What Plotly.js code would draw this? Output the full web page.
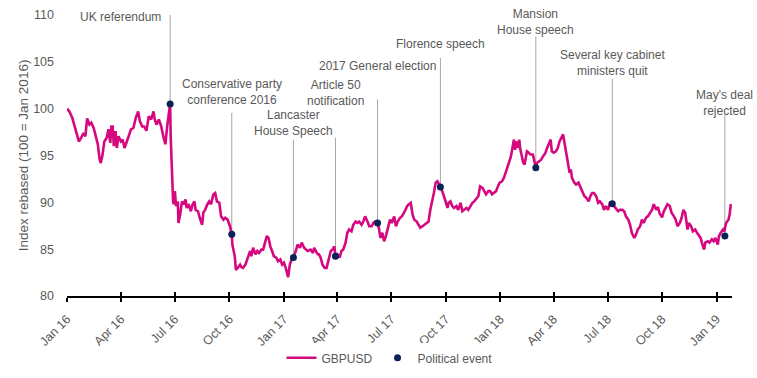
<!DOCTYPE html>
<html>
<head>
<meta charset="utf-8">
<script src="https://cdn.plot.ly/plotly-3.0.1.min.js"></script>
<style>
  html, body { margin: 0; padding: 0; background: #fff; }
  #chart { width: 757px; height: 378px; }
</style>
</head>
<body>
<div id="chart"></div>
<script>
// GBPUSD index (100 = Jan 2016)
var dates = [
"2016-01-01","2016-01-05","2016-01-10","2016-01-14","2016-01-18","2016-01-21","2016-01-25","2016-01-29",
"2016-02-01","2016-02-04","2016-02-08","2016-02-11","2016-02-15","2016-02-18","2016-02-22","2016-02-25","2016-02-27",
"2016-03-01","2016-03-04","2016-03-08","2016-03-11","2016-03-14","2016-03-16","2016-03-18","2016-03-20","2016-03-23","2016-03-25","2016-03-28",
"2016-04-01","2016-04-04","2016-04-07","2016-04-11","2016-04-14","2016-04-18","2016-04-22","2016-04-26","2016-04-30",
"2016-05-03","2016-05-07","2016-05-10","2016-05-14","2016-05-18","2016-05-22","2016-05-26","2016-05-28","2016-05-31",
"2016-06-04","2016-06-08","2016-06-12","2016-06-15","2016-06-18","2016-06-21","2016-06-23","2016-06-24","2016-06-26","2016-06-28","2016-06-29",
"2016-07-01","2016-07-03","2016-07-06","2016-07-07","2016-07-10","2016-07-13","2016-07-16","2016-07-19","2016-07-21","2016-07-24","2016-07-28","2016-07-31",
"2016-08-03","2016-08-05","2016-08-09","2016-08-12","2016-08-16","2016-08-18","2016-08-21","2016-08-25","2016-08-28","2016-08-31",
"2016-09-04","2016-09-07","2016-09-10","2016-09-14","2016-09-17","2016-09-21","2016-09-24","2016-09-28",
"2016-10-01","2016-10-02","2016-10-05","2016-10-06","2016-10-10","2016-10-12","2016-10-15","2016-10-19","2016-10-21","2016-10-24","2016-10-28",
"2016-11-01","2016-11-05","2016-11-07","2016-11-10","2016-11-14","2016-11-17","2016-11-20","2016-11-24","2016-11-27",
"2016-12-01","2016-12-03","2016-12-06","2016-12-09","2016-12-12","2016-12-15","2016-12-19","2016-12-22","2016-12-26","2016-12-29",
"2017-01-01","2017-01-04","2017-01-08","2017-01-11","2017-01-14","2017-01-17","2017-01-21","2017-01-24","2017-01-28","2017-01-31",
"2017-02-04","2017-02-07","2017-02-10","2017-02-15","2017-02-19","2017-02-21","2017-02-24","2017-02-27",
"2017-03-01","2017-03-04","2017-03-07","2017-03-11","2017-03-14","2017-03-18","2017-03-21","2017-03-24","2017-03-27","2017-03-29",
"2017-04-01","2017-04-05","2017-04-08","2017-04-11","2017-04-15","2017-04-18","2017-04-21","2017-04-25","2017-04-28",
"2017-05-02","2017-05-05","2017-05-08","2017-05-12","2017-05-15","2017-05-18","2017-05-22","2017-05-25","2017-05-29",
"2017-06-01","2017-06-04","2017-06-08","2017-06-10","2017-06-13","2017-06-16","2017-06-19","2017-06-22","2017-06-26","2017-06-29",
"2017-07-02","2017-07-06","2017-07-09","2017-07-12","2017-07-16","2017-07-19","2017-07-24","2017-07-28","2017-07-31",
"2017-08-03","2017-08-06","2017-08-09","2017-08-13","2017-08-16","2017-08-19","2017-08-23","2017-08-26","2017-08-29",
"2017-09-02","2017-09-05","2017-09-08","2017-09-11","2017-09-14","2017-09-17","2017-09-20","2017-09-22","2017-09-25","2017-09-28",
"2017-10-01","2017-10-04","2017-10-06","2017-10-09","2017-10-12","2017-10-15","2017-10-19","2017-10-22","2017-10-26","2017-10-29",
"2017-11-01","2017-11-05","2017-11-08","2017-11-11","2017-11-15","2017-11-18","2017-11-21","2017-11-25","2017-11-28",
"2017-12-02","2017-12-05","2017-12-08","2017-12-12","2017-12-15","2017-12-18","2017-12-21","2017-12-25","2017-12-28","2017-12-31",
"2018-01-04","2018-01-07","2018-01-10","2018-01-14","2018-01-17","2018-01-19","2018-01-22","2018-01-24","2018-01-26","2018-01-28","2018-01-31",
"2018-02-02","2018-02-04","2018-02-06","2018-02-09","2018-02-11","2018-02-13","2018-02-15","2018-02-18","2018-02-21","2018-02-25","2018-02-27",
"2018-03-02","2018-03-04","2018-03-08","2018-03-11","2018-03-14","2018-03-18","2018-03-21","2018-03-24","2018-03-27","2018-03-29",
"2018-04-01","2018-04-05","2018-04-08","2018-04-11","2018-04-15","2018-04-17","2018-04-19","2018-04-22","2018-04-25","2018-04-28","2018-04-30",
"2018-05-02","2018-05-06","2018-05-09","2018-05-13","2018-05-16","2018-05-19","2018-05-23","2018-05-26","2018-05-30",
"2018-06-02","2018-06-05","2018-06-08","2018-06-12","2018-06-15","2018-06-18","2018-06-22","2018-06-25","2018-06-28",
"2018-07-02","2018-07-05","2018-07-09","2018-07-12","2018-07-15","2018-07-19","2018-07-22","2018-07-26","2018-07-29",
"2018-08-01","2018-08-05","2018-08-08","2018-08-11","2018-08-15","2018-08-18","2018-08-21","2018-08-25","2018-08-28","2018-08-31",
"2018-09-04","2018-09-07","2018-09-11","2018-09-14","2018-09-17","2018-09-21","2018-09-24","2018-09-27",
"2018-10-01","2018-10-04","2018-10-07","2018-10-10","2018-10-14","2018-10-17","2018-10-21","2018-10-24","2018-10-27","2018-10-31",
"2018-11-03","2018-11-06","2018-11-09","2018-11-11","2018-11-13","2018-11-15","2018-11-19","2018-11-22","2018-11-26","2018-11-29",
"2018-12-02","2018-12-05","2018-12-09","2018-12-11","2018-12-13","2018-12-17","2018-12-20","2018-12-24","2018-12-27","2018-12-30",
"2019-01-03","2019-01-05","2019-01-08","2019-01-12","2019-01-14","2019-01-17","2019-01-21","2019-01-23","2019-01-25"
];
var gbpusd = [
100.0,99.7,99.0,98.1,97.05,96.5,96.9,97.4,
97.05,98.95,98.3,98.5,97.95,97.05,96.2,94.6,94.2,
95.1,96.5,96.9,97.8,96.35,98.1,98.1,96.0,97.6,95.8,97.05,
96.5,96.7,95.8,96.5,97.05,97.8,97.95,99.0,99.7,
98.65,98.1,98.1,97.65,99.2,98.85,99.7,98.85,98.3,
98.85,98.1,96.9,96.2,98.1,99.9,100.5,96.9,92.25,90.1,89.8,
91.2,89.6,90.1,87.8,88.7,90.1,89.8,90.3,89.4,89.8,89.05,89.8,
90.1,89.2,89.05,88.35,87.6,88.9,89.2,89.8,90.1,89.8,
90.85,91.0,90.1,89.95,88.5,88.15,88.35,88.15,
87.6,87.45,86.6,85.5,84.25,82.8,83.0,83.35,83.1,83.0,83.35,
84.1,84.8,84.25,85.15,84.45,84.8,84.6,84.95,84.95,
85.85,86.4,86.2,85.3,84.8,84.25,84.1,83.7,83.9,83.35,
83.55,83.0,82.0,83.35,83.9,84.1,84.8,85.5,85.15,85.7,
85.15,84.95,84.8,84.95,84.6,85.15,84.8,84.45,
84.45,84.1,83.35,83.0,83.0,83.9,84.8,84.95,85.3,84.25,
84.45,84.1,84.8,84.95,85.7,86.75,87.1,86.9,87.6,
87.95,87.8,87.95,87.6,87.95,88.5,87.95,87.45,87.45,
87.8,87.95,87.8,87.3,86.2,86.75,85.85,86.4,87.3,88.15,
87.8,88.5,87.45,87.95,88.35,88.5,89.05,89.6,89.8,
89.95,88.7,88.15,87.95,87.6,87.3,87.45,87.6,87.8,
87.95,89.2,89.95,91.0,92.1,92.25,91.9,91.65,91.2,90.65,
89.95,89.4,89.95,90.1,89.6,89.4,89.6,89.2,89.95,89.05,
89.2,89.4,89.2,89.6,89.95,90.1,90.3,90.65,91.7,
91.55,91.2,90.85,91.2,91.2,90.85,91.0,91.2,91.7,92.1,
92.25,92.6,93.15,93.85,94.4,94.9,95.95,96.7,95.6,96.5,95.8,
96.7,95.6,94.9,94.2,94.05,94.75,95.45,95.3,95.1,95.1,94.4,
93.7,94.2,94.4,94.55,94.9,95.25,95.8,96.35,96.7,95.45,
95.3,95.45,95.8,96.5,96.9,97.25,96.5,95.45,94.2,93.15,93.5,
92.6,92.1,91.9,92.1,91.7,91.2,90.65,90.5,90.1,
90.65,91.0,91.0,90.65,89.95,90.1,89.8,89.2,89.6,
89.2,89.95,89.85,89.6,89.4,89.05,89.2,89.2,89.05,
88.5,88.15,87.6,86.75,86.2,86.55,87.1,87.45,88.15,87.8,
88.35,88.5,88.9,89.2,89.8,89.2,89.5,88.8,
88.4,89.05,89.4,89.8,89.6,88.9,88.5,88.15,87.45,87.8,
88.35,89.2,88.9,87.6,87.1,87.8,87.45,86.9,87.1,86.75,
86.4,86.2,85.3,84.95,85.7,85.85,85.7,86.05,85.85,86.2,
85.5,86.4,86.75,87.1,86.9,87.8,88.15,88.7,89.8
];

// Political events
var eventDates = ["2016-06-23","2016-10-05","2017-01-17","2017-03-29","2017-06-08","2017-09-22","2018-03-02","2018-07-09","2019-01-15"];
var eventValues = [100.5,86.6,84.1,84.25,87.8,91.65,93.7,89.85,86.4];
var eventLabels = ["UK referendum","Conservative party<br>conference 2016","Lancaster<br>House Speech","Article 50<br>notification","2017 General election","Florence speech","Mansion<br>House speech","Several key cabinet<br>ministers quit","May's deal<br>rejected"];

// Axis ticks
var tickDates = ["2016-01-01","2016-04-01","2016-07-01","2016-10-01","2017-01-01","2017-04-01","2017-07-01","2017-10-01","2018-01-01","2018-04-01","2018-07-01","2018-10-01","2019-01-01"];
var tickLabels = ["Jan 16","Apr 16","Jul 16","Oct 16","Jan 17","Apr 17","Jul 17","Oct 17","Jan 18","Apr 18","Jul 18","Oct 18","Jan 19"];
var yTicks = [80,85,90,95,100,105,110];

// label layout (leader-line tops and label centres, in value units)
var lineTops = [110.0,99.55,96.7,96.9,101.0,105.4,107.7,103.2,99.4];
var labelY = [109.8,101.8,98.5,101.65,104.6,106.95,109.3,104.85,100.6];

var textColor = "#595959";
var fontFam = "'Liberation Sans', Arial, sans-serif";

var traces = [
  {
    x: dates, y: gbpusd, type: "scatter", mode: "lines", name: "GBPUSD",
    line: {color: "#D6087F", width: 2.6}, hoverinfo: "skip"
  },
  {
    x: eventDates, y: eventValues, type: "scatter", mode: "markers", name: "Political event",
    marker: {color: "#0B2257", size: 7}, hoverinfo: "skip"
  },
  {
    x: [tickDates[0]], y: [null], xaxis: "x2", yaxis: "y", type: "scatter", mode: "lines",
    showlegend: false, hoverinfo: "skip"
  }
];

var shapes = [];
var annotations = [];
for (var i = 0; i < eventDates.length; i++) {
  shapes.push({
    type: "line", xref: "x", yref: "y",
    x0: eventDates[i], x1: eventDates[i], y0: eventValues[i], y1: lineTops[i],
    line: {color: "#A6A6A6", width: 1}, layer: "below"
  });
  var ann = {
    x: eventDates[i], y: labelY[i], xref: "x", yref: "y",
    text: eventLabels[i], showarrow: false,
    font: {family: fontFam, size: 12, color: textColor},
    align: "center", xanchor: "center", yanchor: "middle"
  };
  if (i === 0) { ann.xanchor = "right"; ann.xshift = -7; }
  annotations.push(ann);
}

var layout = {
  width: 757, height: 378,
  margin: {l: 67, r: 25, t: 15, b: 81.5, autoexpand: false},
  paper_bgcolor: "#fff", plot_bgcolor: "#fff",
  font: {family: fontFam, size: 12, color: textColor},
  showlegend: true,
  legend: {
    orientation: "h", x: 0.485, xanchor: "center", y: -0.22, yanchor: "middle",
    font: {family: fontFam, size: 12, color: textColor},
    itemwidth: 30, tracegroupgap: 0
  },
  xaxis: {
    type: "date", range: ["2016-01-01", "2019-01-27"], automargin: false,
    tickmode: "array", tickvals: tickDates, ticktext: tickLabels,
    tickangle: -45, ticks: "outside", ticklen: 4, tickwidth: 2, tickcolor: "#000",
    ticklabelstandoff: 5,
    showline: true, linecolor: "#000", linewidth: 2,
    showgrid: false, zeroline: false, fixedrange: true,
    tickfont: {family: fontFam, size: 12.5, color: textColor}
  },
  xaxis2: {
    type: "date", overlaying: "x", matches: "x", anchor: "y", side: "bottom", automargin: false,
    tickmode: "array", tickvals: tickDates, ticks: "inside", ticklen: 4, tickwidth: 2, tickcolor: "#000",
    showticklabels: false, showline: false, showgrid: false, zeroline: false
  },
  yaxis: {
    range: [80, 110], tickmode: "array", tickvals: yTicks, automargin: false,
    showline: false, showgrid: false, zeroline: false, ticks: "",
    ticklabelstandoff: 12, fixedrange: true,
    tickfont: {family: fontFam, size: 12.5, color: textColor},
    title: {text: "Index rebased (100 = Jan 2016)", standoff: 1,
            font: {family: fontFam, size: 13.5, color: textColor}}
  },
  shapes: shapes,
  annotations: annotations
};

Plotly.newPlot("chart", traces, layout, {displayModeBar: false, staticPlot: true});
</script>
</body>
</html>
